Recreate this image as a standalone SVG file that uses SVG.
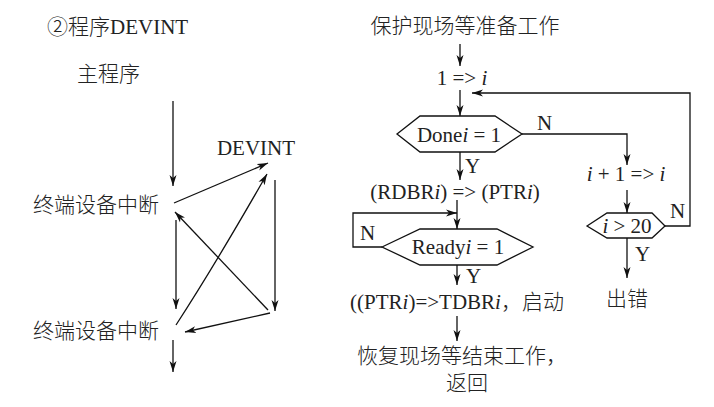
<svg xmlns="http://www.w3.org/2000/svg" width="714" height="407" viewBox="0 0 714 407">
<defs>
<marker id="ah" markerUnits="userSpaceOnUse" markerWidth="12" markerHeight="8" refX="11" refY="4" orient="auto">
<path d="M0,0.5 L11,4 L0,7.5 L3,4 Z" fill="#111"/>
</marker>
</defs>
<style>
text{font-family:"Liberation Serif","Noto Sans CJK SC",serif;font-size:21px;fill:#222;font-weight:300}
.m{text-anchor:middle}
.i{font-style:italic}
.c{stroke:#111;stroke-width:1.3;fill:none}
.a{marker-end:url(#ah)}
.hex{fill:#fff;stroke:#111;stroke-width:1.3}
</style>
<rect width="714" height="407" fill="#fff"/>

<g id="left-title"><text x="47" y="34" font-size="19">②程序DEVINT</text></g>
<g id="main"><text x="77" y="81">主程序</text></g>
<g id="devint"><text x="256" y="155" class="m" font-size="20">DEVINT</text></g>
<g id="int1"><text x="33" y="212">终端设备中断</text></g>
<g id="int2"><text x="33" y="338">终端设备中断</text></g>

<g id="right-title"><text x="465" y="33" class="m">保护现场等准备工作</text></g>
<g id="init"><text x="462" y="85" class="m">1 =&gt; <tspan class="i">i</tspan></text></g>
<g id="done">
<polygon class="hex" points="397,134 420,116 495,116 522,134 495,152 420,152"/>
<text x="459" y="142" class="m">Done<tspan class="i">i</tspan> = 1</text>
</g>
<g id="inc"><text x="626" y="181" class="m"><tspan class="i">i</tspan> + 1 =&gt; <tspan class="i">i</tspan></text></g>
<g id="check">
<polygon class="hex" points="587,226 607,213 652,213 665,226 652,238 607,238"/>
<text x="627" y="233" class="m"><tspan class="i">i</tspan> &gt; 20</text>
</g>
<g id="err"><text x="627" y="306" class="m">出错</text></g>
<g id="copy"><text x="455" y="199" class="m">(RDBR<tspan class="i">i</tspan>) =&gt; (PTR<tspan class="i">i</tspan>)</text></g>
<g id="ready">
<polygon class="hex" points="382,247 420,229 497,229 533,247 497,265 420,265"/>
<text x="458" y="254" class="m">Ready<tspan class="i">i</tspan> = 1</text>
</g>
<g id="out"><text x="457" y="309" class="m">((PTR<tspan class="i">i</tspan>)=&gt;TDBR<tspan class="i">i</tspan>，启动</text></g>
<g id="end">
<text x="462" y="363" class="m">恢复现场等结束工作，</text>
<text x="467" y="390" class="m">返回</text>
</g>

<g id="connectors">
<line class="c a" x1="173" y1="101" x2="173" y2="186"/>
<line class="c a" x1="174" y1="203" x2="268" y2="163"/>
<path class="c a" d="M176,325 Q215,265 267,174"/>
<line class="c a" x1="275" y1="180" x2="275" y2="311"/>
<line class="c a" x1="268" y1="310" x2="175" y2="212"/>
<line class="c a" x1="270" y1="313" x2="185" y2="332"/>
<line class="c a" x1="176" y1="220" x2="176" y2="309"/>
<line class="c a" x1="173" y1="340" x2="173" y2="372"/>

<line class="c a" x1="460" y1="44" x2="460" y2="66"/>
<line class="c a" x1="460" y1="90" x2="460" y2="116"/>
<path class="c a" d="M665,226 H690 V93 H472"/>
<path class="c a" d="M522,134 H627 V165"/>
<line class="c a" x1="627" y1="190" x2="627" y2="213"/>
<line class="c a" x1="627" y1="238" x2="627" y2="278"/>
<line class="c a" x1="460" y1="152" x2="460" y2="180"/>
<line class="c a" x1="457" y1="200" x2="457" y2="229"/>
<path class="c a" d="M382,247 H353 V213 H457"/>
<line class="c a" x1="457" y1="265" x2="457" y2="285"/>
<line class="c a" x1="457" y1="316" x2="457" y2="341"/>
</g>

<g id="labels">
<text x="537" y="130">N</text>
<text x="670" y="218">N</text>
<text x="635" y="261">Y</text>
<text x="465" y="173">Y</text>
<text x="360" y="240">N</text>
<text x="466" y="283">Y</text>
</g>
</svg>
